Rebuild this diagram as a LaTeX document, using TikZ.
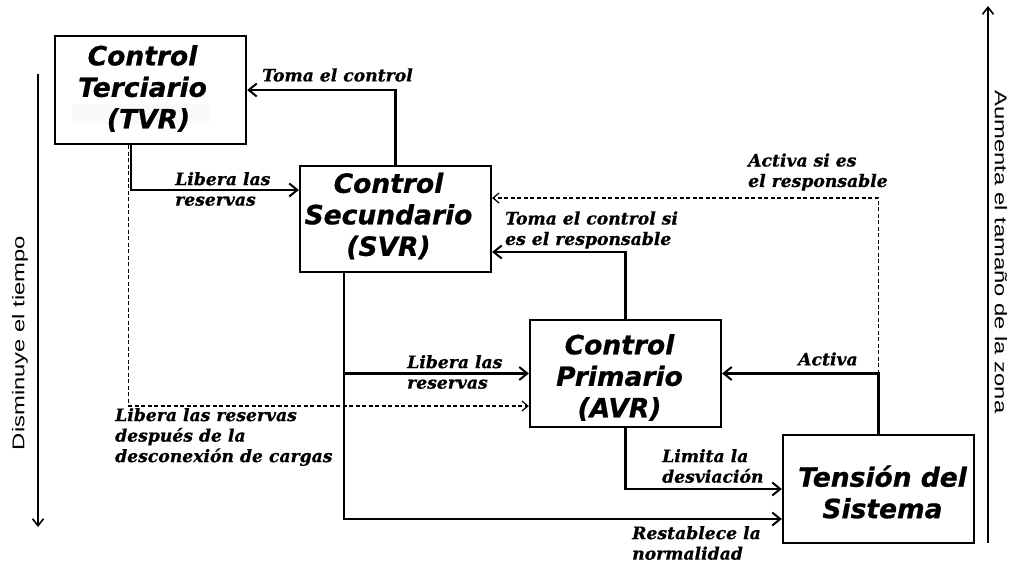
\documentclass[tikz,border=0pt]{standalone}
\usepackage{fontspec}
\usepackage{graphicx}
\usetikzlibrary{arrows.meta}
\newfontfamily\boxfamily{DejaVu Sans}[BoldItalicFeatures={FakeBold=0.8}]
\newfontfamily\lblfamily{DejaVu Serif}[BoldItalicFeatures={FakeBold=0.6}]
\newfontfamily\sidefamily{Liberation Sans}

\begin{document}
\begin{tikzpicture}[x=1pt,y=-1pt,
  block/.style={draw, line width=2.3pt, inner sep=0pt, minimum width=191pt},
  blocktext/.style={inner sep=0pt, align=center,
    font=\boxfamily\bfseries\itshape\fontsize{26.5}{31.5}\selectfont},
  lbl/.style={anchor=west, inner sep=0pt, align=left,
    font=\lblfamily\bfseries\itshape\fontsize{17.2}{20.5}\selectfont},
  conn/.style={line width=2.3pt, -{Straight Barb[length=8pt,width=13pt,line width=2pt]}},
  dconn/.style={line width=1.2pt, dash pattern=on 4pt off 2.5pt,
    -{Straight Barb[length=6pt,width=10pt,line width=1.2pt]}},
  side/.style={line width=1.6pt, -{Straight Barb[length=7pt,width=11pt,line width=1.6pt]}},
  sidetext/.style={inner sep=0pt, font=\sidefamily\fontsize{17}{20}\selectfont},
]
\useasboundingbox (0,0) rectangle (1013,563);

% faint band behind the TVR line
\fill[black!2] (72,104) rectangle (210,124);

% control blocks
\node[block, minimum height=108pt] (tvr) at (150.5,90) {};
\node[block, minimum height=106pt] (svr) at (395.5,219) {};
\node[block, minimum height=107pt] (avr) at (625.5,373.5) {};
\node[block, minimum height=108pt] (ten) at (878.5,489) {};

% block titles
\node[blocktext] (tvrt) at ([xshift=-8pt,yshift=1.5pt]tvr.center)
  {Control\\Terciario\\\hspace*{12pt}(TVR)};
\node[blocktext] (svrt) at ([xshift=-7pt,yshift=3pt]svr.center)
  {Control\\Secundario\\(SVR)};
\node[blocktext] (avrt) at ([xshift=-6pt,yshift=-4pt]avr.center)
  {Control\\Primario\\(AVR)};
\node[blocktext] (tent) at ([xshift=4pt,yshift=-3pt]ten.center)
  {Tensión del\\Sistema};

% solid connectors
\draw[conn] (svr.north) |- (tvr.east);
\draw[conn] ([xshift=77pt]tvr.south west) |- ([yshift=29pt]svr.west);
\draw[conn] ([xshift=45pt]svr.south west) |- (avr.west);
\draw[conn] ([xshift=45pt]svr.south west) |- ([yshift=-30pt]ten.west);
\draw[conn] (avr.south) |- (ten.west);
\draw[conn] (avr.north) |- ([yshift=-33pt]svr.east);
\draw[conn] (ten.north) |- (avr.east);
\coordinate (act) at (ten.north |- avr.east);

% dashed connectors
\draw[dconn] ([xshift=75pt]tvr.south west) |- ([yshift=-32.5pt]avr.west);
\draw[dconn] (act) |- ([yshift=21pt]svr.east);

% connector labels
\node[lbl] (l1) at (262,75) {Toma el control};
\node[lbl] (l2) at (175,189) {Libera las\\reservas};
\node[lbl] (l3) at (115,437) {Libera las reservas\\después de la\\desconexión de cargas};
\node[lbl] (l4) at (748,172) {Activa si es\\el responsable};
\node[lbl] (l5) at (505,230) {Toma el control si\\es el responsable};
\node[lbl] (l6) at (407,372) {Libera las\\reservas};
\node[lbl] (l7) at (798,359) {Activa};
\node[lbl] (l8) at (662,466) {Limita la\\desviación};
\node[lbl] (l9) at (632,543) {Restablece la\\normalidad};

% side axes
\coordinate (tTop) at (38,74);
\coordinate (tBot) at (38,527);
\draw[side] (tTop) -- (tBot);
\node[sidetext, rotate=90] (tlab) at (20,343) {\scalebox{1.4}[1]{Disminuye el tiempo}};

\coordinate (zBot) at (988,543);
\coordinate (zTop) at (988,6);
\draw[side] (zBot) -- (zTop);
\node[sidetext, rotate=-90] (zlab) at (1001,252) {\scalebox{1.4}[1]{Aumenta el tamaño de la zona}};
\end{tikzpicture}
\end{document}
